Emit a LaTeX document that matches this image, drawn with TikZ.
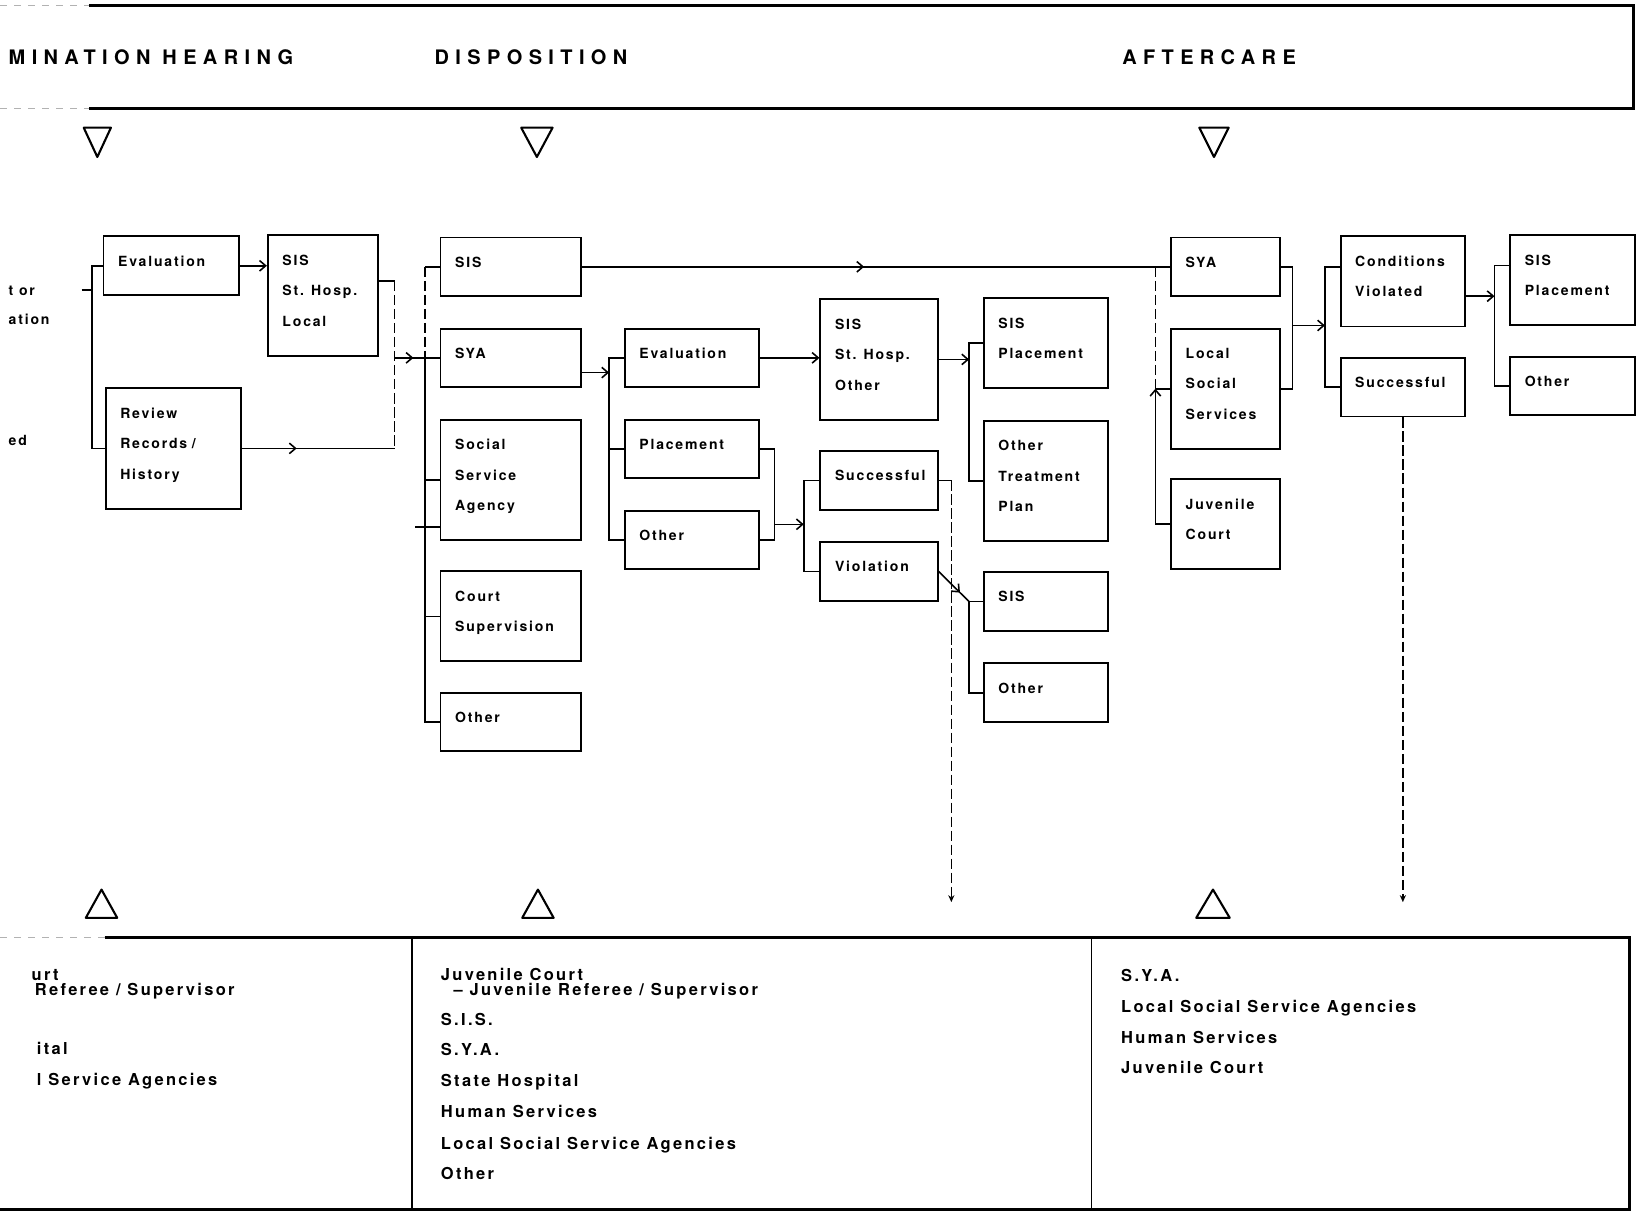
\documentclass[tikz,border=0pt]{standalone}
\usepackage{fontspec}
\usetikzlibrary{arrows.meta,decorations.markings}
\newfontfamily\boxfam[LetterSpace=13]{TeX Gyre Heros}
\newfontfamily\headfam[LetterSpace=32]{TeX Gyre Heros}
\newfontfamily\listfam[LetterSpace=14]{TeX Gyre Heros}
\newcommand\boxfont{\boxfam\bfseries\fontsize{8}{17.3}\selectfont\hyphenpenalty=10000 }
\newcommand\headfont{\headfam\bfseries\fontsize{11.4}{13}\selectfont}
\newcommand\listfont{\listfam\bfseries\fontsize{9.4}{11}\selectfont}

\begin{document}
\begin{tikzpicture}[x=0.021cm,y=-0.021cm,
  >={Straight Barb[length=3.5pt,width=6pt]},
  box/.style={draw,line width=1.1pt,anchor=north west,align=left,inner xsep=0.294cm,
    font=\boxfont,execute at end node={\rule[-5.6pt]{0pt}{5.6pt}}},
  oneline/.style={minimum height=1.176cm},
  twoline/.style={minimum height=1.806cm},
  threeline/.style={minimum height=2.415cm},
  colA/.style={text width=2.121cm},
  colB/.style={text width=1.617cm},
  colD/.style={text width=2.226cm},
  colE/.style={text width=2.1cm},
  colF/.style={text width=1.764cm},
  colG/.style={text width=1.911cm},
  colH/.style={text width=1.596cm},
  conn/.style={line width=0.9pt},
  dashy/.style={line width=0.9pt,dash pattern=on 6pt off 2pt},
  drop/.style={dashy,-{Stealth[length=4pt,width=3.5pt]}},
  midarr/.style={postaction={decorate},decoration={markings,mark=at position #1 with {\arrow{>}}}},
  tri/.style={line width=1.2pt,line join=round},
  rim/.style={line width=1.6pt},
  faint/.style={draw=black!30,line width=0.6pt,dash pattern=on 4pt off 4pt},
  lbl/.style={anchor=base west,inner sep=0pt}]
\useasboundingbox (0,0) rectangle (1568,1159);

%banner
\draw[rim] (85,5) -- (1561,5) -- (1561,104) -- (85,104);
\draw[faint] (0,5) -- (85,5);
\draw[faint] (0,104) -- (85,104);
\node[lbl,font=\headfont] (hdet) at (8,62) {MINATION HEARING};
\node[lbl,font=\headfont] (hdisp) at (415,62) {DISPOSITION};
\node[lbl,font=\headfont] (haft) at (1072,62) {AFTERCARE};

%triangles
\draw[tri] (80,122) -- (106,122) -- (93,150) -- cycle;
\draw[tri] (498,122) -- (528,122) -- (513,150) -- cycle;
\draw[tri] (1146,122) -- (1174,122) -- (1160,150) -- cycle;
\draw[tri] (82,877) -- (112,877) -- (97,850) -- cycle;
\draw[tri] (499,877) -- (529,877) -- (514,850) -- cycle;
\draw[tri] (1143,877) -- (1175,877) -- (1159,850) -- cycle;

%left margin
\node[lbl,font=\boxfont] (mor) at (8,282) {t or};
\node[lbl,font=\boxfont] (mation) at (8,310) {ation};
\node[lbl,font=\boxfont] (med) at (8,426) {ed};

%boxes
\node[box,colA,oneline] (evala) at (98,225) {Evaluation};
\node[box,colA,threeline] (reva) at (100,370) {Review\\Records /\\History};
\node[box,colB,threeline] (sisb) at (255,224) {SIS\\St. Hosp.\\Local};

\node[box,colD,oneline] (sisd) at (420,226) {SIS};
\node[box,colD,oneline] (syad) at (420,313) {SYA};
\node[box,colD,threeline] (ssad) at (420,400) {Social\\Service\\Agency};
\node[box,colD,twoline] (csd) at (420,545) {Court\\Supervision};
\node[box,colD,oneline] (othd) at (420,661) {Other};

\node[box,colE,oneline] (evale) at (596,313) {Evaluation};
\node[box,colE,oneline] (plce) at (596,400) {Placement};
\node[box,colE,oneline] (othe) at (596,487) {Other};

\node[box,colF,threeline] (sisf) at (783,285) {SIS\\St. Hosp.\\Other};
\node[box,colF,oneline] (sucf) at (783,430) {Successful};
\node[box,colF,oneline] (viof) at (783,517) {Violation};

\node[box,colG,twoline] (plcg) at (939,284) {SIS\\Placement};
\node[box,colG,threeline] (otpg) at (939,401) {Other\\Treatment\\Plan};
\node[box,colG,oneline] (sisg) at (939,546) {SIS};
\node[box,colG,oneline] (othg) at (939,633) {Other};

\node[box,colH,oneline] (syah) at (1118,226) {SYA};
\node[box,colH,threeline] (lssh) at (1118,313) {Local\\Social\\Services};
\node[box,colH,twoline] (juvh) at (1118,457) {Juvenile\\Court};

\node[box,colG,twoline] (cvi) at (1280,225) {Conditions\\Violated};
\node[box,colG,oneline] (suci) at (1280,341) {Successful};

\node[box,colG,twoline] (plcj) at (1442,224) {SIS\\Placement};
\node[box,colG,oneline] (othj) at (1442,340) {Other};

%bracket lines
\coordinate (bA) at (88,0);
\coordinate (bB) at (377,0);
\coordinate (bD) at (406,0);
\coordinate (bE) at (582,0);
\coordinate (bEr) at (740,0);
\coordinate (bF) at (768,0);
\coordinate (bG) at (926,0);
\coordinate (bH) at (1104,0);
\coordinate (bHr) at (1235,0);
\coordinate (bI) at (1266,0);
\coordinate (bJ) at (1428,0);
\coordinate (inA) at (78,277);
\coordinate (emid) at (740,501);
\coordinate (hmid) at (1235,311);
\coordinate (dropF) at (909,862);

%hearing
\draw[conn] (inA) -- (inA -| bA);
\draw[conn] (evala.west) -- (evala.west -| bA) -- (reva.west -| bA) -- (reva.west);
\draw[conn,->] (evala.east) -- (evala.east -| sisb.west);
\draw[conn] ([yshift=8.4pt]sisb.east) -- ([yshift=8.4pt]sisb.east -| bB);
\draw[dashy] ([yshift=8.4pt]sisb.east -| bB) -- (reva.east -| bB);
\draw[conn,midarr=0.36] (reva.east) -- (reva.east -| bB);
\draw[conn,midarr=0.42] (syad.west -| bB) -- (syad.west);

%disposition
\draw[dashy] (sisd.west -| bD) -- (syad.west -| bD);
\draw[conn] (syad.west -| bD) -- (othd.west -| bD) -- (othd.west);
\draw[conn] (sisd.west) -- (sisd.west -| bD);
\draw[conn] (ssad.west) -- (ssad.west -| bD);
\draw[conn] ([yshift=-27pt]ssad.west) -- ++(-23,0);
\draw[conn] (csd.west) -- (csd.west -| bD);
\draw[conn,midarr=0.48] (sisd.east) -- (syah.west);

\draw[conn,->] ([yshift=-8.4pt]syad.east) -- ([yshift=-8.4pt]syad.east -| bE);
\draw[conn] (evale.west) -- (evale.west -| bE) -- (othe.west -| bE) -- (othe.west);
\draw[conn] (plce.west) -- (plce.west -| bE);
\draw[conn,->] (evale.east) -- (evale.east -| sisf.west);
\draw[conn] (plce.east) -- (plce.east -| bEr) -- (othe.east -| bEr) -- (othe.east);
\draw[conn,->] (emid) -- (emid -| bF);
\draw[conn] (sucf.west) -- (sucf.west -| bF) -- (viof.west -| bF) -- (viof.west);

\draw[conn,->] (sisf.east) -- (sisf.east -| bG);
\draw[conn] (plcg.west) -- (plcg.west -| bG) -- (otpg.west -| bG) -- (otpg.west);
\draw[conn,midarr=0.7] (viof.east) -- (sisg.west -| bG);
\draw[conn] (sisg.west) -- (sisg.west -| bG) -- (othg.west -| bG) -- (othg.west);

\draw[conn] (sucf.east) -- (sucf.east -| dropF);
\draw[drop] (sucf.east -| dropF) -- (dropF);

%aftercare
\draw[dashy] (syah.west -| bH) -- (lssh.west -| bH);
\draw[conn,->] (juvh.west) -- (juvh.west -| bH) -- (lssh.west -| bH);
\draw[conn] (lssh.west -| bH) -- (lssh.west);
\draw[conn] (syah.east) -- (syah.east -| bHr) -- (lssh.east -| bHr) -- (lssh.east);
\draw[conn,->] (hmid) -- (hmid -| bI);
\draw[conn] ([yshift=8.4pt]cvi.west) -- ([yshift=8.4pt]cvi.west -| bI) -- (suci.west -| bI) -- (suci.west);
\draw[conn,->] ([yshift=-8.4pt]cvi.east) -- ([yshift=-8.4pt]cvi.east -| bJ);
\draw[conn] ([yshift=8.4pt]plcj.west) -- ([yshift=8.4pt]plcj.west -| bJ) -- (othj.west -| bJ) -- (othj.west);
\draw[drop] (suci.south) -- (suci.south |- dropF);

%agencies panel
\draw[rim] (100,896) -- (1557,896) -- (1557,1156) -- (0,1156);
\draw[faint] (0,896) -- (100,896);
\draw[line width=1pt] (394,896) -- (394,1156);
\draw[line width=1pt] (1043,896) -- (1043,1156);

\node[lbl,font=\listfont] (a1) at (30,937) {urt};
\node[lbl,font=\listfont] (a2) at (33,951) {Referee / Supervisor};
\node[lbl,font=\listfont] (a3) at (35,1008) {ital};
\node[lbl,font=\listfont] (a4) at (35,1037) {l Service Agencies};

\node[lbl,font=\listfont] (b1) at (421,937) {Juvenile Court};
\node[lbl,font=\listfont] (b2) at (433,951) {– Juvenile Referee / Supervisor};
\node[lbl,font=\listfont] (b3) at (421,980) {S.I.S.};
\node[lbl,font=\listfont] (b4) at (421,1009) {S.Y.A.};
\node[lbl,font=\listfont] (b5) at (421,1038) {State Hospital};
\node[lbl,font=\listfont] (b6) at (421,1068) {Human Services};
\node[lbl,font=\listfont] (b7) at (421,1098) {Local Social Service Agencies};
\node[lbl,font=\listfont] (b8) at (421,1127) {Other};

\node[lbl,font=\listfont] (c1) at (1071,938) {S.Y.A.};
\node[lbl,font=\listfont] (c2) at (1071,967) {Local Social Service Agencies};
\node[lbl,font=\listfont] (c3) at (1071,997) {Human Services};
\node[lbl,font=\listfont] (c4) at (1071,1026) {Juvenile Court};

\end{tikzpicture}
\end{document}
